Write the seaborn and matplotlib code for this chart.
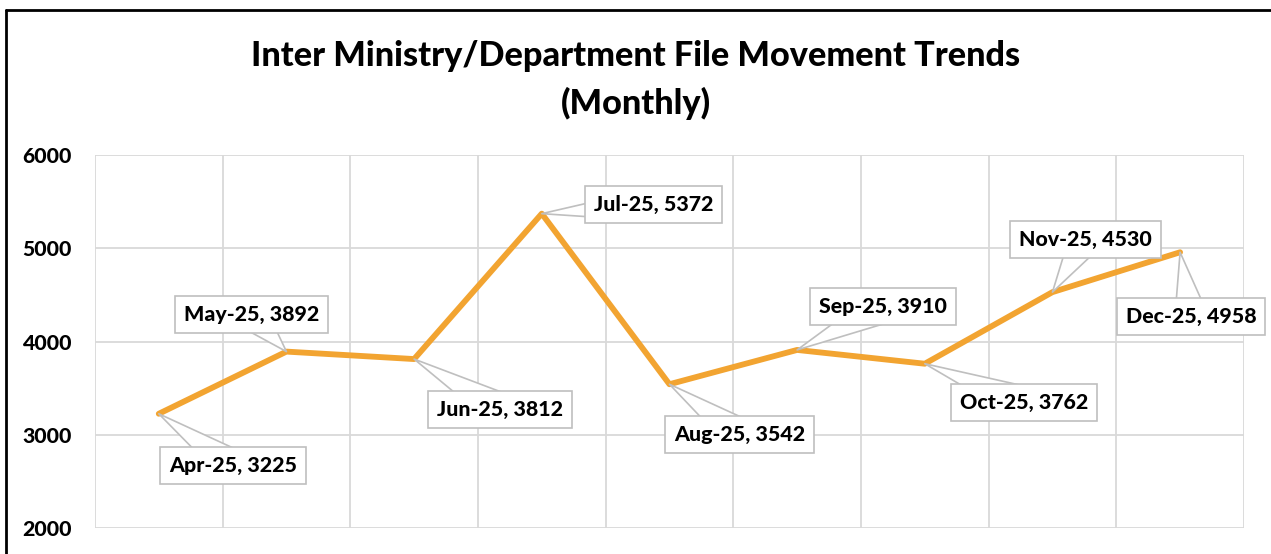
import pandas as pd
import seaborn as sns
import matplotlib.pyplot as plt
from matplotlib.lines import Line2D

months = ['Apr-25', 'May-25', 'Jun-25', 'Jul-25', 'Aug-25', 'Sep-25', 'Oct-25', 'Nov-25', 'Dec-25']
files_moved = [3225, 3892, 3812, 5372, 3542, 3910, 3762, 4530, 4958]
# where each callout box sits, relative to its point (pixels)
label_offsets = [(74, -52), (-35, 37), (86, -50), (112, 9), (70, -50),
                 (86, 43), (99, -39), (33, 53), (11, -64)]

sns.set_style('white')
plt.rcParams['font.family'] = ['Lato', 'DejaVu Sans']
plt.rcParams['text.color'] = 'black'
plt.rcParams['ytick.color'] = 'black'

df = pd.DataFrame({'month': months, 'files': files_moved})
df['pos'] = range(len(df))

fig = plt.figure(figsize=(12.71, 5.54), dpi=100)
ax = fig.add_axes([0.0747, 0.047, 0.904, 0.673])

sns.lineplot(data=df, x='pos', y='files', color='#F2A431', linewidth=4.2,
             sort=False, ax=ax, zorder=3)

for i, (m, v) in enumerate(zip(months, files_moved)):
    ax.annotate(f'{m}, {v}', xy=(i, v), xytext=label_offsets[i],
                textcoords='offset pixels', ha='center', va='center',
                fontsize=15.4, fontweight=900, color='black', zorder=5,
                bbox=dict(boxstyle='square,pad=0.42', fc='white', ec='#bfbfbf', lw=1.2),
                arrowprops=dict(arrowstyle='wedge,tail_width=1.55,shrink_factor=0.5',
                                fc='white', ec='#bfbfbf', lw=1.2,
                                patchA=None, shrinkA=0, shrinkB=0))

ax.set_xlim(-0.5, len(months) - 0.5)
ax.set_ylim(2000, 6000)
ax.set_yticks([2000, 3000, 4000, 5000, 6000])
ax.set_xticks([i - 0.5 for i in range(len(months) + 1)])
ax.set_xticklabels([])
ax.grid(True, color='#d9d9d9', linewidth=1.3)
ax.tick_params(axis='both', length=0)
ax.tick_params(axis='y', pad=16.5, labelsize=15.3)
for lbl in ax.get_yticklabels():
    lbl.set_fontweight(900)
for s in ax.spines.values():
    s.set_visible(False)
ax.set_xlabel('')
ax.set_ylabel('')

fig.text(0.5, 0.855, 'Inter Ministry/Department File Movement Trends\n(Monthly)',
         ha='center', va='center', fontsize=24.7, fontweight=900, linespacing=1.55)

# outer frame (top and left edges are visible in the original)
fig.add_artist(Line2D([0.005, 1], [0.982, 0.982], color='black', lw=2))
fig.add_artist(Line2D([0.005, 0.005], [0, 0.982], color='black', lw=2))

fig.savefig('out.png', dpi=100)
